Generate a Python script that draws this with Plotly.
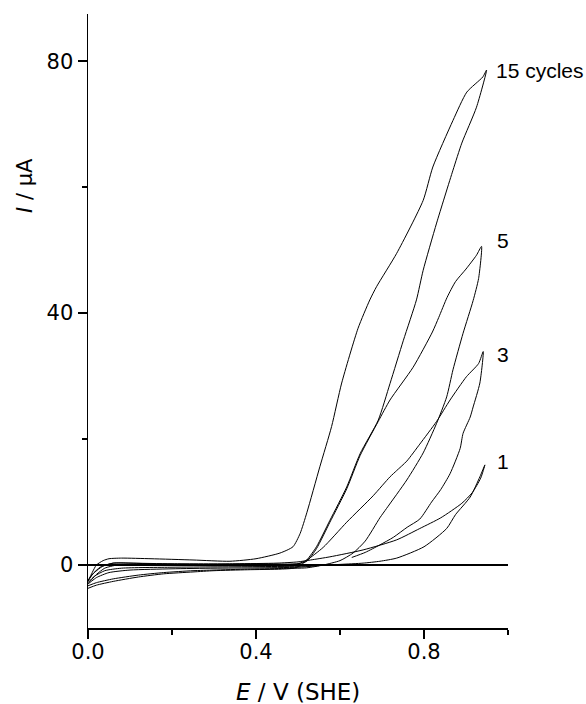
import plotly.graph_objects as go

# ---- data (E in V vs SHE, I in µA) ----
E15 = [0.0, 0.02, 0.06, 0.12, 0.18, 0.25, 0.30, 0.38, 0.46, 0.49, 0.505, 0.521, 0.544, 0.576, 0.616, 0.648,
       0.691, 0.719, 0.751, 0.782, 0.798, 0.83, 0.869, 0.89, 0.925, 0.949,
       0.94, 0.902, 0.869, 0.821, 0.798, 0.735, 0.687, 0.671, 0.643, 0.604, 0.58, 0.552, 0.521, 0.505, 0.488,
       0.457, 0.40, 0.338, 0.25, 0.15, 0.08, 0.05, 0.036, 0.02, 0.01, 0.0]
I15 = [-3.7, -3.2, -2.6, -1.9, -1.4, -1.1, -0.9, -0.75, -0.65, -0.5, -0.1, 0.8, 2.9, 7.1, 12.4, 17.7,
       23.0, 28.8, 35.7, 42.1, 46.8, 54.3, 62.7, 67.0, 72.7, 78.6,
       77.5, 75.1, 70.6, 63.2, 57.9, 49.5, 44.2, 42.1, 37.6, 28.9, 22.0, 15.6, 8.3, 5.0, 2.9,
       1.9, 1.0, 0.6, 0.8, 1.0, 1.1, 1.0, 0.7, 0.0, -1.2, -2.6]

E5 = [0.0, 0.02, 0.06, 0.12, 0.18, 0.25, 0.30, 0.38, 0.46, 0.52, 0.56, 0.60, 0.631, 0.66, 0.695, 0.711,
      0.759, 0.798, 0.83, 0.854, 0.869, 0.893, 0.917, 0.93, 0.937,
      0.925, 0.90, 0.875, 0.855, 0.835, 0.82, 0.774, 0.719, 0.691, 0.648, 0.616, 0.576, 0.544, 0.521,
      0.50, 0.40, 0.30, 0.15, 0.06, 0.03, 0.01, 0.0]
I5 = [-3.3, -2.8, -2.2, -1.6, -1.2, -0.9, -0.8, -0.65, -0.55, -0.45, 0.0, 0.7, 1.9, 3.8, 7.5, 9.0,
      13.5, 17.8, 22.5, 26.7, 31.0, 36.8, 42.0, 45.5, 50.6,
      49.2, 47.0, 45.0, 42.5, 39.3, 37.0, 31.4, 26.2, 22.8, 17.4, 12.1, 6.8, 2.6, 0.6,
      0.2, 0.2, 0.1, 0.2, 0.3, -0.3, -1.5, -2.6]

E3 = [0.628, 0.66, 0.695, 0.727, 0.76, 0.79, 0.818, 0.84, 0.862, 0.886, 0.893, 0.91, 0.917, 0.933, 0.941,
      0.93, 0.901, 0.862, 0.83, 0.79, 0.759, 0.735, 0.719, 0.679, 0.616, 0.56, 0.521, 0.50, 0.40, 0.30,
      0.15, 0.07, 0.04, 0.02, 0.0,
      0.02, 0.05, 0.10, 0.20, 0.30, 0.40, 0.50, 0.55]
I3 = [1.2, 2.0, 3.2, 4.4, 6.0, 7.3, 10.0, 12.0, 14.5, 18.5, 20.9, 23.5, 25.1, 28.9, 33.9,
      32.0, 29.9, 26.2, 22.8, 19.2, 16.5, 15.0, 14.0, 11.0, 6.8, 2.8, 0.8, 0.2, 0.0, -0.1,
      0.0, 0.0, -0.5, -1.5, -3.0,
      -2.0, -1.2, -0.8, -0.6, -0.5, -0.45, -0.35, -0.1]

E1 = [0.0, 0.015, 0.04, 0.08, 0.20, 0.30, 0.40, 0.50, 0.54, 0.60, 0.655, 0.695, 0.735, 0.80, 0.854, 0.875,
      0.91, 0.933, 0.945,
      0.935, 0.915, 0.89, 0.84, 0.79, 0.735, 0.655, 0.576, 0.53, 0.50, 0.45, 0.35, 0.20, 0.10, 0.06,
      0.035, 0.015, 0.0]
I1 = [-2.8, -1.8, -0.9, -0.5, -0.35, -0.3, -0.25, -0.2, -0.1, 0.1, 0.3, 0.6, 1.1, 2.9, 5.8, 8.0,
      10.8, 14.0, 15.9,
      13.8, 11.5, 9.8, 7.5, 5.8, 4.0, 2.4, 1.3, 0.8, 0.5, 0.3, 0.2, 0.2, 0.3, 0.3,
      -0.2, -1.2, -2.4]

cycle_labels = ["15 cycles", "5", "3", "1"]
label_E = [0.966, 0.968, 0.968, 0.970]
label_I = [78.6, 51.6, 33.4, 16.4]

LABEL_FONT = "Arial, 'Liberation Sans', Helvetica, sans-serif"
AXIS_FONT = "'DejaVu Sans', Arial, sans-serif"

fig = go.Figure()
for E, I in [(E15, I15), (E5, I5), (E3, I3), (E1, I1)]:
    fig.add_trace(go.Scatter(x=E, y=I, mode="lines", line=dict(color="black", width=1, shape="spline", smoothing=0.6),
                             showlegend=False, hoverinfo="skip"))

fig.add_hline(y=0, line=dict(color="black", width=2))

for txt, ex, iy in zip(cycle_labels, label_E, label_I):
    fig.add_annotation(x=ex, y=iy, xref="x", yref="y", text=txt, showarrow=False,
                       xanchor="left", yanchor="middle", font=dict(size=21, color="black", family=LABEL_FONT))

# axis titles as annotations (positioned as in the reference)
fig.add_annotation(x=-0.15, y=0.72, xref="paper", yref="paper", text="<i>I</i> / µA", textangle=-90,
                   showarrow=False, xanchor="center", yanchor="middle",
                   font=dict(size=21, color="black", family=AXIS_FONT))
fig.add_annotation(x=0.5, y=-0.104, xref="paper", yref="paper", text="<i>E</i> / V (SHE)",
                   showarrow=False, xanchor="center", yanchor="middle",
                   font=dict(size=23, color="black", family=AXIS_FONT))

axis_common = dict(showline=True, linecolor="black", linewidth=1.5, ticks="outside", ticklen=9,
                   tickwidth=1.5, tickcolor="black", showgrid=False, zeroline=False,
                   tickfont=dict(size=21, color="black", family=AXIS_FONT))
fig.update_xaxes(range=[0, 1.0], tickmode="array", tickvals=[0.0, 0.4, 0.8], ticktext=["0.0", "0.4", "0.8"],
                 ticklabelstandoff=-5,
                 minor=dict(tickmode="array", tickvals=[0.2, 0.6, 1.0], ticklen=5, tickwidth=1.5,
                            tickcolor="black", ticks="outside"),
                 **axis_common)
fig.update_yaxes(range=[-10, 87.5], tickmode="array", tickvals=[0, 40, 80], ticktext=["0", "40", "80"],
                 minor=dict(tickmode="array", tickvals=[20, 60], ticklen=5, tickwidth=1.5,
                            tickcolor="black", ticks="outside"),
                 **axis_common)

fig.update_layout(width=586, height=704, margin=dict(l=88, r=78, t=14, b=76),
                  plot_bgcolor="white", paper_bgcolor="white",
                  font=dict(family=LABEL_FONT, color="black"))

# remove the default 8px body margin so the figure fills the window exactly
fig.write_html("out.html", config={"displayModeBar": False, "staticPlot": True},
               post_script="document.body.style.margin='0';document.body.style.overflow='hidden';")
